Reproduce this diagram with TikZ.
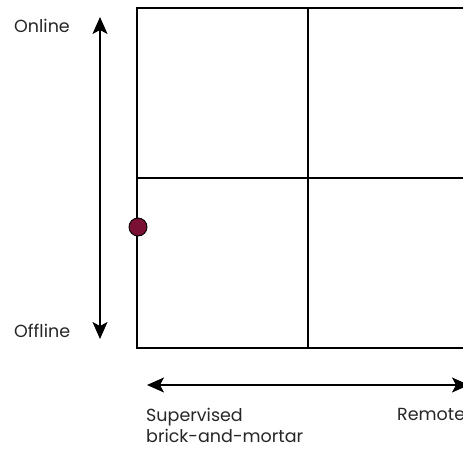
\documentclass[tikz,border=0pt]{standalone}
\usepackage{fontspec}
\setmainfont{Poppins}
\usetikzlibrary{arrows.meta}
\definecolor{dotred}{HTML}{7A1034}
\begin{document}
\begin{tikzpicture}[x=1pt,y=-1pt,
  gridline/.style={line width=1.1pt,black},
  axisarrow/.style={line width=1.3pt,black,{Stealth[length=17pt,width=15pt,inset=4pt]}-{Stealth[length=17pt,width=15pt,inset=4pt]}},
  lbl/.style={font=\fontsize{17.5}{21}\selectfont,text=black!85,inner sep=0pt,anchor=west}]
\useasboundingbox (0,0) rectangle (463,450);
\clip (0,0) rectangle (463,450);
\coordinate (tl) at (137,8);
\coordinate (br) at (480,348);
\draw[gridline] (tl) rectangle (br);
\draw[gridline] (137,178) -- (480,178);
\draw[gridline] (308,8) -- (308,348);
\coordinate (vtop) at (100,17);
\coordinate (vbot) at (100,339);
\draw[axisarrow] (vtop) -- (vbot);
\coordinate (hl) at (147,385);
\coordinate (hr) at (469,385);
\draw[axisarrow] (hl) -- (hr);
\node[circle,draw=black,line width=0.9pt,fill=dotred,minimum size=18pt,inner sep=0pt] (dot) at (138,227) {};
\node[lbl] (online) at (14,26) {Online};
\node[lbl] (offline) at (14,331) {Offline};
\node[lbl,align=left,anchor=north west] (sup) at (146,408) {Supervised\\brick-and-mortar};
\node[lbl,anchor=north west] (remote) at (397,408) {Remote};
\end{tikzpicture}
\end{document}
